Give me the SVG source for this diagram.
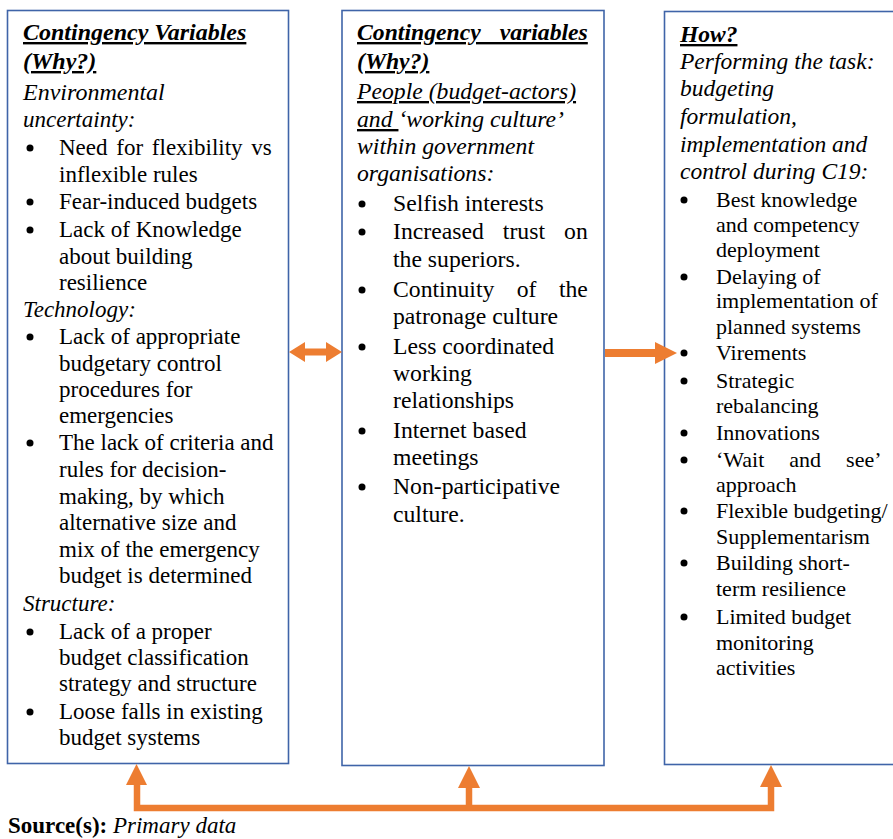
<svg xmlns="http://www.w3.org/2000/svg" width="893" height="839" viewBox="0 0 893 839">
  <style>
    .box { fill: #ffffff; stroke: #3F64A8; stroke-width: 1.6; }
    text { font-family: "Liberation Serif", "Times New Roman", serif; fill: #000000; }
    .b1 { font-size: 23px; }
    .b2 { font-size: 23.7px; }
    .b3 { font-size: 22px; }
    .b3 .it, .b3 .hd { font-size: 23.5px; }
    .big { font-size: 24px; }
    .hd { font-weight: bold; font-style: italic; text-decoration: underline; }
    .it { font-style: italic; }
    .ul { text-decoration: underline; }
    .dot { fill: #000000; }
    .arrow { fill: #ED7D31; }
    .link { fill: none; stroke: #ED7D31; stroke-width: 6.5; stroke-linejoin: miter; }
  </style>

  <!-- Left box: environmental, technology and structure variables -->
  <g id="node-why-1">
    <rect class="box" x="7.5" y="10.5" width="281" height="753"/>
    <g class="b1">
      <text class="hd big" x="23" y="40">Contingency Variables</text>
      <text class="hd big" x="23" y="69">(Why?)</text>
      <text class="it big" x="23" y="100">Environmental</text>
      <text class="it" x="23" y="127">uncertainty:</text>
      <text x="59" y="155" word-spacing="3">Need for flexibility vs</text>
      <text x="59" y="182">inflexible rules</text>
      <text x="59" y="209">Fear-induced budgets</text>
      <text x="59" y="237">Lack of Knowledge</text>
      <text x="59" y="264">about building</text>
      <text x="59" y="290">resilience</text>
      <text class="it" x="23" y="317">Technology:</text>
      <text x="59" y="344">Lack of appropriate</text>
      <text x="59" y="371">budgetary control</text>
      <text x="59" y="397">procedures for</text>
      <text x="59" y="423">emergencies</text>
      <text x="59" y="450">The lack of criteria and</text>
      <text x="59" y="477">rules for decision-</text>
      <text x="59" y="504">making, by which</text>
      <text x="59" y="530">alternative size and</text>
      <text x="59" y="557">mix of the emergency</text>
      <text x="59" y="583">budget is determined</text>
      <text class="it" x="23" y="611">Structure:</text>
      <text x="59" y="639">Lack of a proper</text>
      <text x="59" y="665">budget classification</text>
      <text x="59" y="691">strategy and structure</text>
      <text x="59" y="719">Loose falls in existing</text>
      <text x="59" y="745">budget systems</text>
    </g>
    <circle class="dot" cx="30" cy="148" r="3.5"/>
    <circle class="dot" cx="30" cy="202" r="3.5"/>
    <circle class="dot" cx="30" cy="230" r="3.5"/>
    <circle class="dot" cx="30" cy="337" r="3.5"/>
    <circle class="dot" cx="30" cy="443" r="3.5"/>
    <circle class="dot" cx="30" cy="632" r="3.5"/>
    <circle class="dot" cx="30" cy="712" r="3.5"/>
  </g>

  <!-- Middle box: people and working culture -->
  <g id="node-why-2">
    <rect class="box" x="342" y="10.5" width="262" height="755"/>
    <g class="b2">
      <text class="hd" x="357" y="40" word-spacing="13">Contingency variables</text>
      <text class="hd" x="357" y="69">(Why?)</text>
      <text class="it" x="357" y="99"><tspan class="ul">People (budget-actors)</tspan></text>
      <text class="it" x="357" y="127"><tspan class="ul">and </tspan>‘working culture’</text>
      <text class="it" x="357" y="154">within government</text>
      <text class="it" x="357" y="181">organisations:</text>
      <text x="393" y="211">Selfish interests</text>
      <text x="393" y="239" word-spacing="13.2">Increased trust on</text>
      <text x="393" y="267">the superiors.</text>
      <text x="393" y="297" word-spacing="16.5">Continuity of the</text>
      <text x="393" y="324">patronage culture</text>
      <text x="393" y="354">Less coordinated</text>
      <text x="393" y="381">working</text>
      <text x="393" y="408">relationships</text>
      <text x="393" y="438">Internet based</text>
      <text x="393" y="465">meetings</text>
      <text x="393" y="494">Non-participative</text>
      <text x="393" y="522">culture.</text>
    </g>
    <circle class="dot" cx="362" cy="204" r="3.5"/>
    <circle class="dot" cx="362" cy="232" r="3.5"/>
    <circle class="dot" cx="362" cy="290" r="3.5"/>
    <circle class="dot" cx="362" cy="347" r="3.5"/>
    <circle class="dot" cx="362" cy="431" r="3.5"/>
    <circle class="dot" cx="362" cy="487" r="3.5"/>
  </g>

  <!-- Right box: how the budgeting task is performed -->
  <g id="node-how">
    <rect class="box" x="664.5" y="11.5" width="240" height="753"/>
    <g class="b3">
      <text class="hd" x="680" y="42">How?</text>
      <text class="it" x="680" y="69">Performing the task:</text>
      <text class="it" x="680" y="96">budgeting</text>
      <text class="it" x="680" y="124">formulation,</text>
      <text class="it" x="680" y="152">implementation and</text>
      <text class="it" x="680" y="179">control during C19:</text>
      <text x="716" y="207">Best knowledge</text>
      <text x="716" y="232">and competency</text>
      <text x="716" y="257">deployment</text>
      <text x="716" y="284">Delaying of</text>
      <text x="716" y="308">implementation of</text>
      <text x="716" y="334">planned systems</text>
      <text x="716" y="360">Virements</text>
      <text x="716" y="388">Strategic</text>
      <text x="716" y="413">rebalancing</text>
      <text x="716" y="440">Innovations</text>
      <text x="716" y="467" word-spacing="19.5">‘Wait and see’</text>
      <text x="716" y="492">approach</text>
      <text x="716" y="518">Flexible budgeting/</text>
      <text x="716" y="544">Supplementarism</text>
      <text x="716" y="570">Building short-</text>
      <text x="716" y="596">term resilience</text>
      <text x="716" y="624">Limited budget</text>
      <text x="716" y="650">monitoring</text>
      <text x="716" y="675">activities</text>
    </g>
    <circle class="dot" cx="684" cy="200" r="3.5"/>
    <circle class="dot" cx="684" cy="277" r="3.5"/>
    <circle class="dot" cx="684" cy="353" r="3.5"/>
    <circle class="dot" cx="684" cy="381" r="3.5"/>
    <circle class="dot" cx="684" cy="433" r="3.5"/>
    <circle class="dot" cx="684" cy="460" r="3.5"/>
    <circle class="dot" cx="684" cy="511" r="3.5"/>
    <circle class="dot" cx="684" cy="563" r="3.5"/>
    <circle class="dot" cx="684" cy="617" r="3.5"/>
  </g>

  <!-- Connectors -->
  <g id="connectors">
    <!-- two-way link between the left and middle boxes -->
    <polygon class="arrow" points="289,352 305,342 305,348.5 326,348.5 326,342 342,352 326,362 326,355.5 305,355.5 305,362"/>
    <!-- middle box to right box -->
    <polygon class="arrow" points="605,349 655,349 655,342 677,353 655,364 655,357 605,357"/>
    <!-- feedback bus along the bottom -->
    <path class="link" d="M137,784 V808 H771 V786"/>
    <path class="link" d="M469,808 V787"/>
    <polygon class="arrow" points="136.5,764 147,785 126,785"/>
    <polygon class="arrow" points="469,766 480,788 458,788"/>
    <polygon class="arrow" points="771,765 782,787 760,787"/>
  </g>

  <text x="8" y="833" style="font-size:23px"><tspan font-weight="bold">Source(s):</tspan> <tspan font-style="italic">Primary data</tspan></text>
</svg>
